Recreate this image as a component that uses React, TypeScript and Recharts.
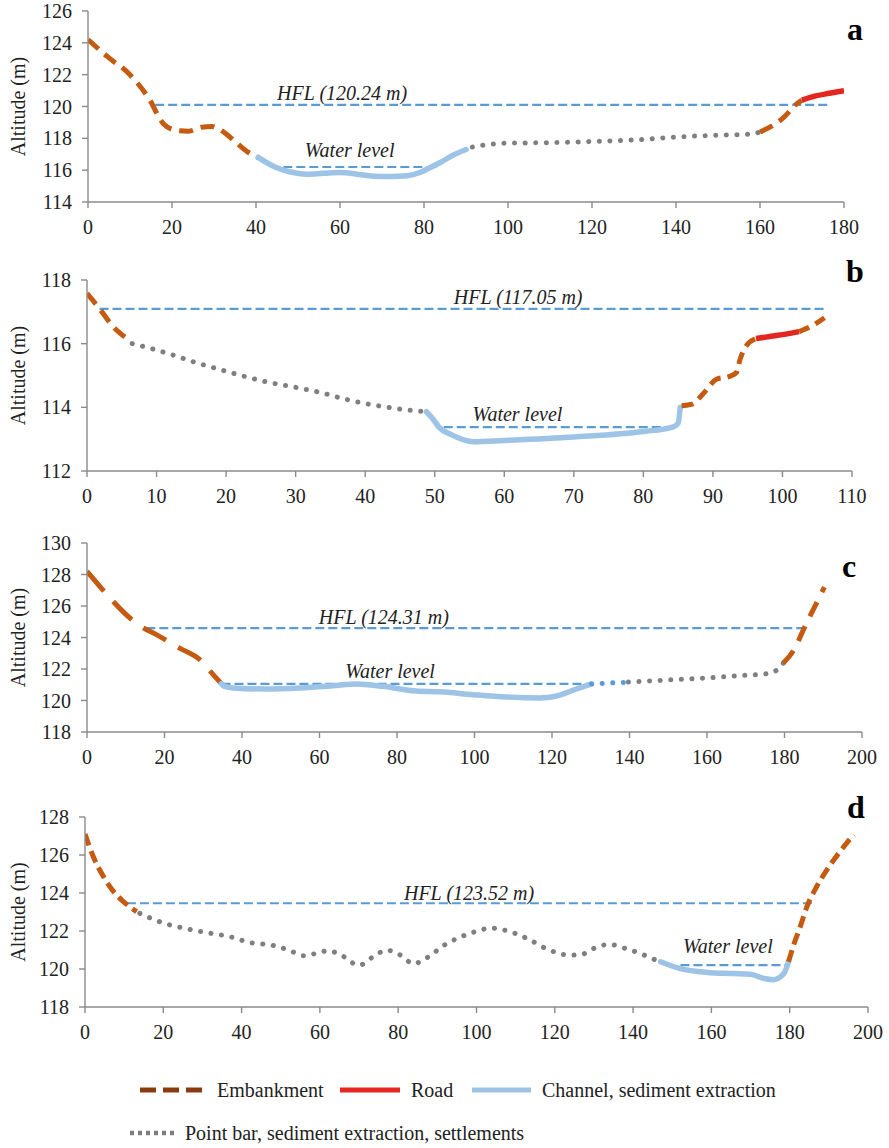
import React from "react";
import { LineChart, Line, XAxis, YAxis, ReferenceDot } from "recharts";

const FONT = "Liberation Serif, Tinos, DejaVu Serif, serif";
const AXIS = "#8a8a8a";
const TEXT = "#222222";

const EMBANK = "#C55A11";
const EMBANK_LEGEND = "#8B3A0E";
const ROAD = "#E32620";
const CHANNEL = "#9DC3E6";
const HFL = "#5B9BD5";
const POINTBAR = "#7F7F7F";

type P = { x: number; y: number };
const pts = (rows: number[][]): P[] => rows.map(([x, y]) => ({ x, y }));

// ---- panel a ----
const aEmbankLeft = pts([[0, 124.2], [5, 123.05], [10, 122.0], [14.5, 120.5], [18, 118.9], [21, 118.5], [24, 118.45], [27, 118.7], [29.5, 118.75], [32, 118.45], [35, 117.8], [38, 117.15], [40.5, 116.8]]);
const aChannel = pts([[40.5, 116.8], [44.5, 116.2], [48, 115.9], [52, 115.75], [56, 115.8], [60, 115.85], [64, 115.75], [68, 115.62], [72, 115.6], [76, 115.65], [79, 115.85], [81, 116.1], [84, 116.5], [87, 116.95], [90, 117.3]]);
const aPointBar = pts([[91.5, 117.45], [95, 117.6], [100, 117.7], [110, 117.73], [120, 117.8], [130, 117.9], [140, 118.08], [150, 118.2], [158, 118.27], [160, 118.4]]);
const aEmbankRight = pts([[160, 118.4], [163, 118.8], [166, 119.4], [168, 120.0], [170, 120.4]]);
const aRoad = pts([[170, 120.4], [173, 120.65], [176.5, 120.83], [180, 121.0]]);
const aHfl = pts([[16, 120.1], [176, 120.1]]);
const aWater = pts([[46.5, 116.2], [81.5, 116.2]]);
const aXTicks = [0, 20, 40, 60, 80, 100, 120, 140, 160, 180];
const aYTicks = [114, 116, 118, 120, 122, 124, 126];
const aHflLabel = { x: 60.5, y: 120.83, text: "HFL (120.24 m)" };
const aWaterLabel = { x: 62.3, y: 117.3, text: "Water level" };

// ---- panel b ----
const bEmbankLeft = pts([[0, 117.58], [1.8, 117.1], [3.7, 116.55], [5.5, 116.2]]);
const bPointBar = pts([[6.5, 116.0], [9.5, 115.83], [12.4, 115.64], [15.3, 115.43], [18.6, 115.22], [21.5, 115.04], [25.8, 114.8], [30.2, 114.62], [33.5, 114.47], [36.9, 114.27], [40, 114.12], [42.7, 114.02], [45.5, 113.93], [48.8, 113.86]]);
const bChannel = pts([[48.8, 113.86], [49.8, 113.62], [50.6, 113.38], [52.3, 113.15], [55.6, 112.92], [60, 112.96], [70, 113.07], [80, 113.24], [84.2, 113.38], [85, 113.5], [85.3, 114.0]]);
const bEmbankMid = pts([[85.5, 114.05], [87, 114.1], [88.6, 114.43], [90.5, 114.88], [92.5, 114.98], [93.4, 115.1], [93.9, 115.5], [94.8, 115.93], [96.2, 116.16]]);
const bRoad = pts([[96.2, 116.16], [98.6, 116.24], [100.5, 116.3], [102.4, 116.38]]);
const bEmbankRight = pts([[102.4, 116.38], [104.4, 116.58], [106.6, 116.9]]);
const bHfl = pts([[1.8, 117.09], [106.5, 117.09]]);
const bWater = pts([[51.3, 113.38], [84.3, 113.38]]);
const bXTicks = [0, 10, 20, 30, 40, 50, 60, 70, 80, 90, 100, 110];
const bYTicks = [112, 114, 116, 118];
const bHflLabel = { x: 62, y: 117.48, text: "HFL (117.05 m)" };
const bWaterLabel = { x: 61.9, y: 113.8, text: "Water level" };

// ---- panel c ----
const cEmbankLeft = pts([[0, 128.2], [3.3, 127.25], [6.7, 126.3], [10.1, 125.45], [13.6, 124.75], [17.9, 124.18], [23.9, 123.33], [29.1, 122.6], [32.9, 121.55], [34.7, 121.07]]);
const cChannel = pts([[34.7, 121.07], [35.5, 120.9], [37.7, 120.8], [46.3, 120.73], [54.9, 120.8], [63.5, 120.94], [69.5, 121.05], [76.4, 120.9], [85, 120.6], [91, 120.55], [99.6, 120.37], [108.2, 120.22], [116.8, 120.16], [121, 120.27], [125.4, 120.65], [130.2, 121.05]]);
const cChannelDots = pts([[130.2, 121.05], [134, 121.1], [138.4, 121.15]]);
const cPointBar = pts([[139.7, 121.17], [151.3, 121.32], [159.9, 121.43], [168.5, 121.58], [175.4, 121.7], [178.4, 122.0], [179.7, 122.38]]);
const cEmbankRight = pts([[179.7, 122.38], [182.7, 123.33], [184.9, 124.5], [187, 125.56], [190.3, 127.2]]);
const cHfl = pts([[15.3, 124.6], [184.9, 124.6]]);
const cWater = pts([[34.7, 121.05], [130, 121.05]]);
const cXTicks = [0, 20, 40, 60, 80, 100, 120, 140, 160, 180, 200];
const cYTicks = [118, 120, 122, 124, 126, 128, 130];
const cHflLabel = { x: 76.6, y: 125.3, text: "HFL (124.31 m)" };
const cWaterLabel = { x: 78.2, y: 121.85, text: "Water level" };

// ---- panel d ----
const dEmbankLeft = pts([[0, 127.1], [2.1, 125.92], [4.7, 124.87], [7.3, 124.07], [9.8, 123.55], [13.2, 123.02]]);
const dPointBar = pts([[14, 122.93], [20, 122.42], [26, 122.12], [32, 121.88], [37, 121.7], [42, 121.4], [48, 121.24], [52, 121.0], [56, 120.7], [59, 120.82], [62, 120.96], [65, 120.78], [70, 120.2], [74, 120.7], [77, 120.99], [80, 120.8], [84, 120.28], [87, 120.55], [92, 121.28], [98, 121.85], [104, 122.15], [108, 122.0], [113, 121.6], [118, 121.05], [124, 120.73], [127, 120.78], [131, 121.18], [134, 121.29], [138, 121.08], [142, 120.8], [146, 120.45]]);
const dChannel = pts([[147, 120.38], [152, 120.02], [158.9, 119.82], [165.7, 119.76], [170, 119.72], [173.4, 119.5], [175.9, 119.44], [178.5, 119.76], [179.7, 120.38]]);
const dEmbankRight = pts([[179.7, 120.38], [181, 121.26], [182.7, 122.23], [184.4, 123.28], [186.9, 124.34], [189.5, 125.22], [192.9, 126.19], [196.3, 127.07]]);
const dHfl = pts([[10.7, 123.46], [186.1, 123.46]]);
const dWater = pts([[152.1, 120.2], [178.9, 120.2]]);
const dXTicks = [0, 20, 40, 60, 80, 100, 120, 140, 160, 180, 200];
const dYTicks = [118, 120, 122, 124, 126, 128];
const dHflLabel = { x: 98.1, y: 124.0, text: "HFL (123.52 m)" };
const dWaterLabel = { x: 164.2, y: 121.22, text: "Water level" };

type Kind = "embank" | "road" | "channel" | "channelDots" | "pointBar" | "hfl";
type Seg = { kind: Kind; data: P[]; dash?: string };

const segStyle = (s: Seg) => {
  switch (s.kind) {
    case "embank":
      return { stroke: EMBANK, strokeWidth: 5, strokeDasharray: s.dash || "14 8", strokeLinecap: "butt" as const };
    case "road":
      return { stroke: ROAD, strokeWidth: 5.5, strokeLinecap: "butt" as const };
    case "channel":
      return { stroke: CHANNEL, strokeWidth: 5.5, strokeLinecap: "round" as const };
    case "channelDots":
      return { stroke: HFL, strokeWidth: 5, strokeDasharray: "0.1 10.5", strokeLinecap: "round" as const };
    case "pointBar":
      return { stroke: POINTBAR, strokeWidth: 5, strokeDasharray: "0.1 10.5", strokeLinecap: "round" as const };
    case "hfl":
      return { stroke: HFL, strokeWidth: 2.2, strokeDasharray: "9 4", strokeLinecap: "butt" as const };
  }
};

type PanelProps = {
  top: number;
  height: number;
  mTop: number;
  mBottom: number;
  mRight: number;
  yWidth: number;
  xDomain: [number, number];
  xTicks: number[];
  yDomain: [number, number];
  yTicks: number[];
  segs: Seg[];
  labels: { x: number; y: number; text: string }[];
};

function Panel(p: PanelProps) {
  const tick = { fontSize: 20, fill: TEXT, fontFamily: FONT };
  return (
    <div style={{ position: "absolute", left: 0, top: p.top }}>
      <LineChart
        width={889}
        height={p.height}
        margin={{ top: p.mTop, right: p.mRight, bottom: p.mBottom, left: 0 }}
        style={{ fontFamily: FONT }}
      >
        <XAxis
          type="number"
          dataKey="x"
          domain={p.xDomain}
          ticks={p.xTicks}
          interval={0}
          allowDataOverflow
          height={40}
          tickSize={6}
          tickMargin={12}
          axisLine={{ stroke: AXIS, strokeWidth: 1.4 }}
          tickLine={{ stroke: AXIS, strokeWidth: 1.4 }}
          tick={tick}
        />
        <YAxis
          type="number"
          dataKey="y"
          domain={p.yDomain}
          ticks={p.yTicks}
          interval={0}
          allowDataOverflow
          width={p.yWidth}
          tickSize={6}
          tickMargin={10}
          axisLine={{ stroke: AXIS, strokeWidth: 1.4 }}
          tickLine={{ stroke: AXIS, strokeWidth: 1.4 }}
          tick={tick}
          label={{
            value: "Altitude (m)",
            angle: -90,
            position: "insideLeft",
            offset: 18,
            style: { textAnchor: "middle", fontFamily: FONT },
            fontSize: 20,
            fill: TEXT,
            fontFamily: FONT,
          }}
        />
        {p.segs.map((s, i) => (
          <Line
            key={i}
            data={s.data}
            dataKey="y"
            type={s.kind === "hfl" ? "linear" : "monotone"}
            dot={false}
            activeDot={false}
            isAnimationActive={false}
            {...segStyle(s)}
          />
        ))}
        {p.labels.map((l, i) => (
          <ReferenceDot
            key={"l" + i}
            x={l.x}
            y={l.y}
            r={0}
            fill="none"
            stroke="none"
            label={{
              value: l.text,
              position: "center",
              fontSize: 20,
              fontStyle: "italic",
              fill: TEXT,
              fontFamily: FONT,
              style: { fontFamily: FONT, fontStyle: "italic" },
            }}
          />
        ))}
      </LineChart>
    </div>
  );
}

export default function App() {
  return (
    <div
      style={{
        position: "absolute",
        left: 0,
        top: 0,
        width: 889,
        height: 1148,
        background: "#ffffff",
        fontFamily: FONT,
      }}
    >
      <Panel
        top={0}
        height={250}
        mTop={11}
        mBottom={8}
        mRight={45}
        yWidth={88}
        xDomain={[0, 180]}
        xTicks={aXTicks}
        yDomain={[114, 126]}
        yTicks={aYTicks}
        segs={[
          { kind: "hfl", data: aHfl },
          { kind: "hfl", data: aWater },
          { kind: "embank", data: aEmbankLeft },
          { kind: "channel", data: aChannel },
          { kind: "pointBar", data: aPointBar },
          { kind: "embank", data: aEmbankRight },
          { kind: "road", data: aRoad },
        ]}
        labels={[aHflLabel, aWaterLabel]}
      />
      <Panel
        top={250}
        height={270}
        mTop={30}
        mBottom={9}
        mRight={37}
        yWidth={87}
        xDomain={[0, 110]}
        xTicks={bXTicks}
        yDomain={[112, 118]}
        yTicks={bYTicks}
        segs={[
          { kind: "hfl", data: bHfl },
          { kind: "hfl", data: bWater },
          { kind: "embank", data: bEmbankLeft },
          { kind: "pointBar", data: bPointBar },
          { kind: "channel", data: bChannel },
          { kind: "embank", data: bEmbankMid, dash: "12 7" },
          { kind: "road", data: bRoad },
          { kind: "embank", data: bEmbankRight, dash: "11 7" },
        ]}
        labels={[bHflLabel, bWaterLabel]}
      />
      <Panel
        top={520}
        height={260}
        mTop={23}
        mBottom={8}
        mRight={27}
        yWidth={87}
        xDomain={[0, 200]}
        xTicks={cXTicks}
        yDomain={[118, 130]}
        yTicks={cYTicks}
        segs={[
          { kind: "hfl", data: cHfl },
          { kind: "hfl", data: cWater },
          { kind: "embank", data: cEmbankLeft, dash: "26 14" },
          { kind: "channel", data: cChannel },
          { kind: "channelDots", data: cChannelDots },
          { kind: "pointBar", data: cPointBar },
          { kind: "embank", data: cEmbankRight, dash: "16 11" },
        ]}
        labels={[cHflLabel, cWaterLabel]}
      />
      <Panel
        top={780}
        height={275}
        mTop={37}
        mBottom={8}
        mRight={21}
        yWidth={85}
        xDomain={[0, 200]}
        xTicks={dXTicks}
        yDomain={[118, 128]}
        yTicks={dYTicks}
        segs={[
          { kind: "hfl", data: dHfl },
          { kind: "hfl", data: dWater },
          { kind: "embank", data: dEmbankLeft, dash: "12 6" },
          { kind: "pointBar", data: dPointBar },
          { kind: "channel", data: dChannel },
          { kind: "embank", data: dEmbankRight, dash: "12 6" },
        ]}
        labels={[dHflLabel, dWaterLabel]}
      />
      <svg
        width={889}
        height={1148}
        style={{ position: "absolute", left: 0, top: 0, pointerEvents: "none", fontFamily: FONT }}
      >
        <g fontFamily={FONT} fontWeight="bold" fontSize={32} fill="#000">
          <text x={847} y={40}>a</text>
          <text x={846} y={282}>b</text>
          <text x={842} y={577}>c</text>
          <text x={847} y={818}>d</text>
        </g>
        <g fontFamily={FONT} fontSize={20} fill={TEXT}>
          <line x1={140} y1={1090} x2={202} y2={1090} stroke={EMBANK_LEGEND} strokeWidth={5} strokeDasharray="16 7" />
          <text x={217} y={1097}>Embankment</text>
          <line x1={340} y1={1090} x2={400} y2={1090} stroke={ROAD} strokeWidth={5} />
          <text x={411} y={1097}>Road</text>
          <line x1={472} y1={1090} x2={531} y2={1090} stroke={CHANNEL} strokeWidth={5} />
          <text x={542} y={1097}>Channel, sediment extraction</text>
          <line x1={130} y1={1133} x2={176} y2={1133} stroke={POINTBAR} strokeWidth={4.5} strokeDasharray="4 4" />
          <text x={185} y={1140}>Point bar, sediment extraction, settlements</text>
        </g>
      </svg>
    </div>
  );
}
